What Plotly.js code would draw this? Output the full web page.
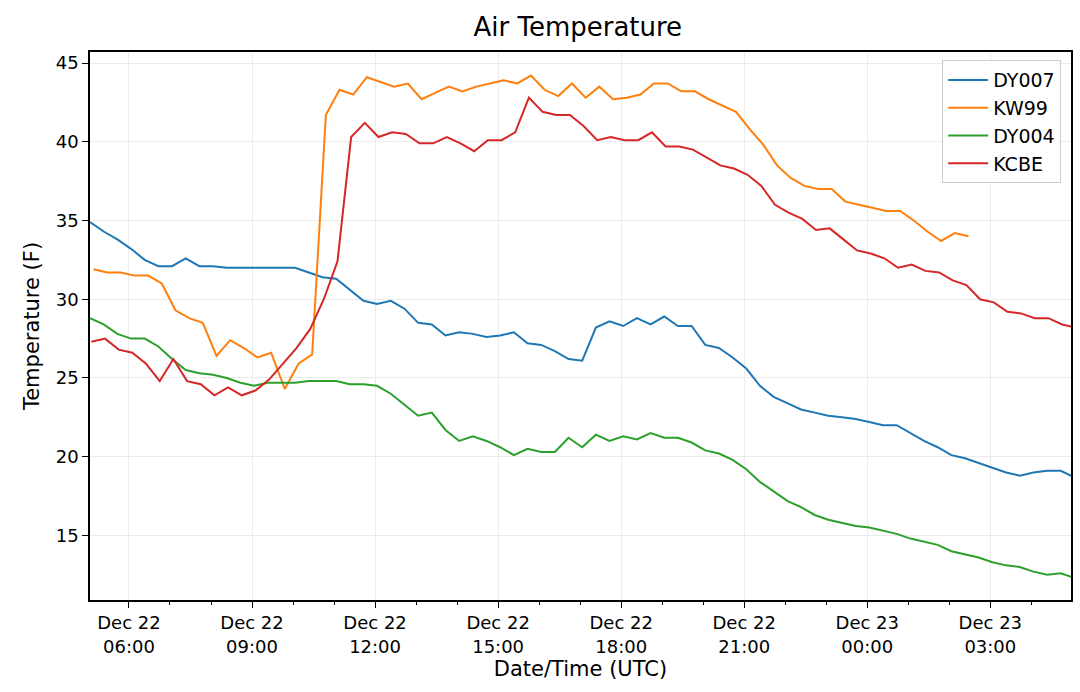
<!DOCTYPE html>
<html><head><meta charset="utf-8">
<script src="https://cdn.plot.ly/plotly-3.0.1.min.js"></script>
<style>body{margin:0;background:#fff}</style></head>
<body><div id="chart" style="width:1080px;height:692px"></div>
<script>
const startTime = "2022-12-22T05:00:00";
const stepMinutes = 20;
const dy007 = [34.9,34.3,33.8,33.2,32.5,32.1,32.1,32.6,32.1,32.1,32.0,32.0,32.0,32.0,32.0,32.0,31.7,31.4,31.3,30.6,29.9,29.7,29.9,29.4,28.5,28.4,27.7,27.9,27.8,27.6,27.7,27.9,27.2,27.1,26.7,26.2,26.1,28.2,28.6,28.3,28.8,28.4,28.9,28.3,28.3,27.1,26.9,26.3,25.6,24.5,23.8,23.4,23.0,22.8,22.6,22.5,22.4,22.2,22.0,22.0,21.5,21.0,20.6,20.1,19.9,19.6,19.3,19.0,18.8,19.0,19.1,19.1,18.7];
const kw99 = [31.9,31.7,31.7,31.5,31.5,31.0,29.3,28.8,28.5,26.4,27.4,26.9,26.3,26.6,24.3,25.9,26.5,41.7,43.3,43.0,44.1,43.8,43.5,43.7,42.7,43.1,43.5,43.2,43.5,43.7,43.9,43.7,44.2,43.3,42.9,43.7,42.8,43.5,42.7,42.8,43.0,43.7,43.7,43.2,43.2,42.7,42.3,41.9,40.8,39.8,38.5,37.7,37.2,37.0,37.0,36.2,36.0,35.8,35.6,35.6,35.0,34.3,33.7,34.2,34.0];
const dy004 = [28.8,28.4,27.8,27.5,27.5,27.0,26.2,25.5,25.3,25.2,25.0,24.7,24.5,24.7,24.7,24.7,24.8,24.8,24.8,24.6,24.6,24.5,24.0,23.3,22.6,22.8,21.7,21.0,21.3,21.0,20.6,20.1,20.5,20.3,20.3,21.2,20.6,21.4,21.0,21.3,21.1,21.5,21.2,21.2,20.9,20.4,20.2,19.8,19.2,18.4,17.8,17.2,16.8,16.3,16.0,15.8,15.6,15.5,15.3,15.1,14.8,14.6,14.4,14.0,13.8,13.6,13.3,13.1,13.0,12.7,12.5,12.6,12.3];
const kcbe = [27.3,27.5,26.8,26.6,25.9,24.8,26.2,24.8,24.6,23.9,24.4,23.9,24.2,24.9,25.9,26.9,28.1,30.0,32.4,40.3,41.2,40.3,40.6,40.5,39.9,39.9,40.3,39.9,39.4,40.1,40.1,40.6,42.8,41.9,41.7,41.7,41.0,40.1,40.3,40.1,40.1,40.6,39.7,39.7,39.5,39.0,38.5,38.3,37.9,37.2,36.0,35.5,35.1,34.4,34.5,33.8,33.1,32.9,32.6,32.0,32.2,31.8,31.7,31.2,30.9,30.0,29.8,29.2,29.1,28.8,28.8,28.4,28.2];
const tickVals = ["2022-12-22 06:00","2022-12-22 09:00","2022-12-22 12:00","2022-12-22 15:00","2022-12-22 18:00","2022-12-22 21:00","2022-12-23 00:00","2022-12-23 03:00"];
const tickText = ["Dec 22<br>06:00","Dec 22<br>09:00","Dec 22<br>12:00","Dec 22<br>15:00","Dec 22<br>18:00","Dec 22<br>21:00","Dec 23<br>00:00","Dec 23<br>03:00"];

function times(n, offsetMin){
  const t0 = new Date(startTime+"Z").getTime();
  const out=[];
  for(let i=0;i<n;i++){
    const d=new Date(t0+(i*stepMinutes+offsetMin)*60000);
    out.push(d.toISOString().slice(0,19).replace("T"," "));
  }
  return out;
}
const colors={DY007:'#1f77b4',KW99:'#ff7f0e',DY004:'#2ca02c',KCBE:'#d62728'};
const mk=(name,y,off)=>({type:'scatter',mode:'lines',name,x:times(y.length,off),y,line:{color:colors[name],width:2}});
const data=[mk('DY007',dy007,3),mk('KW99',kw99,8),mk('DY004',dy004,3),mk('KCBE',kcbe,5)];
const ax={showline:true,mirror:true,linecolor:'#000',linewidth:1.5,gridcolor:'#ebebeb',ticks:'outside',tickcolor:'#000',ticklen:6,zeroline:false,tickfont:{size:18,color:'#000'}};
const layout={
  width:1080,height:692,paper_bgcolor:'#fff',plot_bgcolor:'#fff',
  font:{family:'DejaVu Sans',color:'#000'},
  margin:{l:90,r:9,t:52,b:92},
  title:{text:'Air Temperature',font:{size:26},x:0.535,xanchor:'center',y:0.975,yanchor:'top'},
  xaxis:Object.assign({},ax,{type:'date',range:['2022-12-22 05:03','2022-12-23 04:58'],tickvals:tickVals,ticktext:tickText,
    minor:{dtick:3600000,ticks:'outside',ticklen:3,tickcolor:'#000',showgrid:false},
    title:{text:'Date/Time (UTC)',font:{size:21},standoff:4}}),
  yaxis:Object.assign({},ax,{range:[10.9,45.7],tickvals:[15,20,25,30,35,40,45],title:{text:'Temperature (F)',font:{size:21},standoff:10}}),
  legend:{x:0.99,y:0.985,xanchor:'right',yanchor:'top',bordercolor:'#ccc',borderwidth:1,bgcolor:'rgba(255,255,255,0.9)',font:{size:19},tracegroupgap:0,itemwidth:40},
  showlegend:true
};
Plotly.newPlot('chart',data,layout,{displayModeBar:false});
</script></body></html>
